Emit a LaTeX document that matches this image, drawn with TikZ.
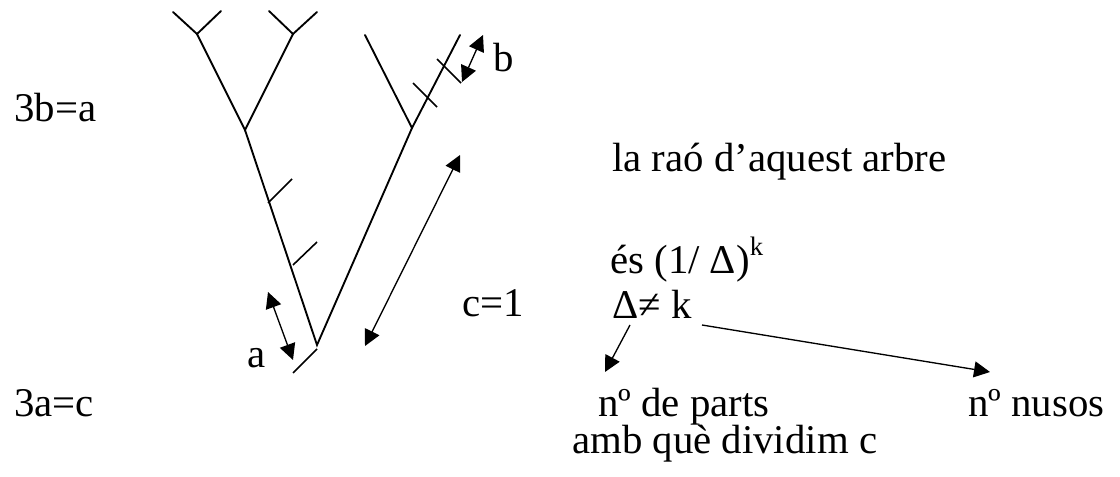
\documentclass[tikz,border=0pt]{standalone}
\usepackage{fontspec}
\setmainfont{Liberation Serif}
\usetikzlibrary{arrows.meta}
\tikzset{
  branch/.style={line width=1.4pt, line cap=round},
  tick/.style={line width=1.2pt},
  dim/.style={line width=1pt, {Triangle[length=12pt,width=12pt]}-{Triangle[length=12pt,width=12pt]}},
  pointer/.style={line width=1pt, -{Triangle[length=12pt,width=12pt]}},
  txt/.style={inner sep=0pt, anchor=base west, font=\fontsize{30.6}{35}\selectfont}
}
\begin{document}
\begin{tikzpicture}[x=0.75pt,y=-0.75pt]
\useasboundingbox (0,0) rectangle (1120,477);
% tree points
\coordinate (lyl) at (173,12);
\coordinate (lyj) at (197,34);
\coordinate (lyr) at (221,11);
\coordinate (ryl) at (269,11);
\coordinate (ryj) at (293,34);
\coordinate (ryr) at (317,12);
\coordinate (lj) at (245,130);
\coordinate (v) at (317,345);
\coordinate (rj) at (412,128);
\coordinate (rl) at (365,35);
\coordinate (rr) at (460,35);
% branches
\draw[branch] (lyl) -- (lyj) -- (lyr);
\draw[branch] (ryl) -- (ryj) -- (ryr);
\draw[branch] (lyj) -- (lj) -- (ryj);
\draw[branch] (lj) -- (v) -- (rj) -- (rr);
\draw[branch] (rl) -- (rj);
% ticks
\draw[tick] (268,203) -- (292,179);
\draw[tick] (293,265) -- (317,242);
\draw[tick] (293,373) -- (317,349);
\draw[tick] (413,83) -- (437,107);
\draw[tick] (437,59) -- (461,83);
% dimension arrows
\coordinate (a1) at (268,292);
\coordinate (a2) at (293,360);
\draw[dim] (a1) -- (a2);
\coordinate (c1) at (460,155);
\coordinate (c2) at (365,346);
\draw[dim] (c1) -- (c2);
\coordinate (b1) at (483,35);
\coordinate (b2) at (462,82);
\draw[dim] (b1) -- (b2);
% labels
\node[txt] (tb) at (493,72) {b};
\node[txt] (ta) at (247,367) {a};
\node[txt] (t3b) at (14,122) {3b=a};
\node[txt] (t3a) at (14,416) {3a=c};
\node[txt] (tc) at (462,316) {c=1};
\node[txt] (raon) at (612,172) {la raó d’aquest arbre};
\node[txt] (es) at (610,273) {és (1/ Δ)\raisebox{0.42em}{\fontsize{20}{20}\selectfont k}};
\node[txt] (dk) at (612,318) {Δ≠ k};
\node[txt] (parts) at (598,416) {nº de parts};
\node[txt] (amb) at (572,453) {amb què dividim c};
\node[txt] (nusos) at (968,416) {nº nusos};
% pointers
\coordinate (p1s) at (630,325);
\coordinate (p1e) at (605,372);
\draw[pointer] (p1s) -- (p1e);
\coordinate (p2s) at (702,325);
\coordinate (p2e) at (990,372);
\draw[pointer] (p2s) -- (p2e);
\end{tikzpicture}
\end{document}
